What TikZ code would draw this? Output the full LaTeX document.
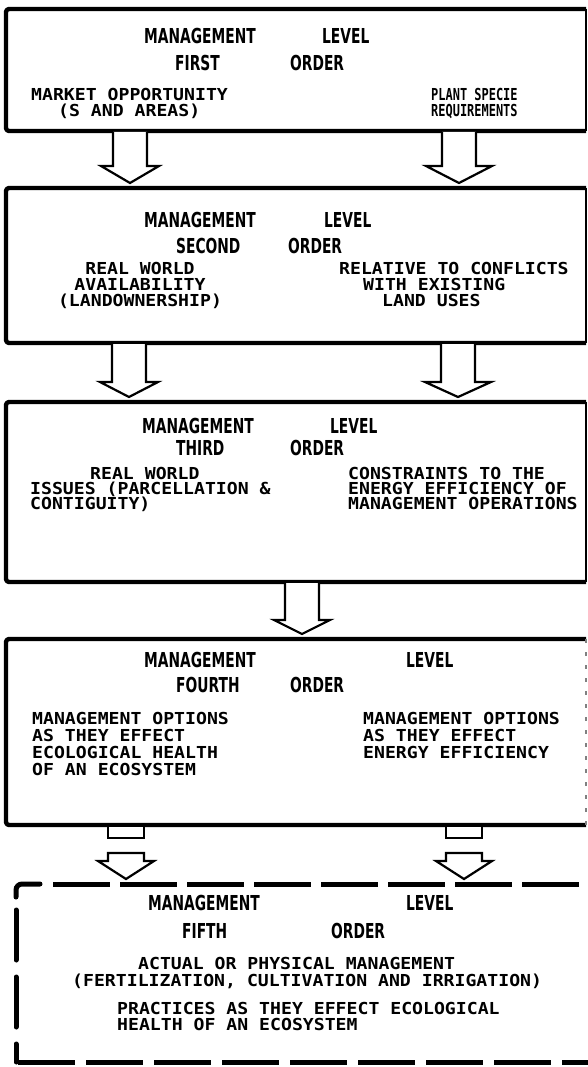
\documentclass[tikz,border=0pt]{standalone}
\usepackage{fontspec}
\usetikzlibrary{calc}
\newfontfamily\headfont{DejaVu Sans}[FakeStretch=0.67]
\newfontfamily\typfont{DejaVu Sans Mono}[FakeStretch=1.10]
\newfontfamily\typcond{DejaVu Sans Mono}[FakeStretch=0.725]
\tikzset{
  hd/.style={anchor=base west, inner sep=0pt, font=\headfont\bfseries\fontsize{20.6}{24}\selectfont},
  tx/.style={anchor=base west, inner sep=0pt, font=\typfont\bfseries\fontsize{16.5}{18}\selectfont},
  txm/.style={anchor=base, inner sep=0pt, font=\typfont\bfseries\fontsize{16.5}{18}\selectfont},
  txc/.style={anchor=base west, inner sep=0pt, font=\typcond\bfseries\fontsize{16.5}{18}\selectfont},
  boxnode/.style={anchor=north west, inner sep=0pt, outer sep=0pt, draw=none},
  frameside/.style={line width=4.4pt, rounded corners=3pt, line join=round},
  frameright/.style={line width=1.5pt},
  blockarrow/.style={draw=black, fill=white, line width=2.2pt, line join=miter},
  stubsty/.style={draw=black, fill=white, line width=2.6pt},
  dashtop/.style={line width=5pt, dash pattern=on 57pt off 10pt},
  dashleft/.style={line width=5pt, dash pattern=on 50pt off 17pt, line cap=round},
}
\newcommand\myboxframe[1]{%
  \draw[frameside] (#1.north east) -- (#1.north west) -- (#1.south west) -- (#1.south east);
  \draw[frameright] (#1.north east) -- (#1.south east);
}
% x centre, from node, to node, shaft half width, head half width, head length
\newcommand\myblockarr[6]{%
  \draw[blockarrow] let \p1=(#2.south), \p2=(#3.north) in
    (#1pt-#4pt,\y1-1pt) -- (#1pt-#4pt,\y2+5pt+#6pt) -- (#1pt-#5pt,\y2+5pt+#6pt)
    -- (#1pt,\y2+5pt) -- (#1pt+#5pt,\y2+5pt+#6pt) -- (#1pt+#4pt,\y2+5pt+#6pt)
    -- (#1pt+#4pt,\y1-1pt);
}
% broken arrow: x centre, from node, to node
\newcommand\mybrokenarr[3]{%
  \draw[stubsty] let \p1=(#2.south) in (#1pt-18pt,\y1-1pt) rectangle (#1pt+18pt,\y1-13pt);
  \draw[blockarrow] let \p2=(#3.north) in
    (#1pt-18pt,\y2+31pt) -- (#1pt+18pt,\y2+31pt) -- (#1pt+18pt,\y2+23pt)
    -- (#1pt+28pt,\y2+23pt) -- (#1pt,\y2+5pt) -- (#1pt-28pt,\y2+23pt)
    -- (#1pt-18pt,\y2+23pt) -- cycle;
}
\begin{document}
\begin{tikzpicture}[x=1pt,y=-1pt]
\useasboundingbox (0,0) rectangle (587,1067);
\fill[white] (0,0) rectangle (587,1067);

% boxes
\node[boxnode, minimum width=580pt, minimum height=122pt] (b1) at (6,9) {};
\node[boxnode, minimum width=580pt, minimum height=155pt] (b2) at (6,188) {};
\node[boxnode, minimum width=580pt, minimum height=180pt] (b3) at (6,402) {};
\node[boxnode, minimum width=580pt, minimum height=186pt] (b4) at (6,639) {};
\node[boxnode, minimum width=584pt, minimum height=178pt] (b5) at (16,884) {};

\myboxframe{b1}
\myboxframe{b2}
\myboxframe{b3}
\draw[frameside] (b4.north east) -- (b4.north west) -- (b4.south west) -- (b4.south east);
\draw[line width=1.2pt, dash pattern=on 4pt off 9pt, gray] (b4.north east) -- (b4.south east);

% dashed fifth box
\draw[line width=5pt, line cap=round, rounded corners=6pt] ($(b5.north west)+(0,13)$) -- (b5.north west) -- ($(b5.north west)+(24,0)$);
\draw[dashtop] ($(b5.north west)+(37,0)$) -- (b5.north east);
\draw[dashtop, dash pattern=on 57pt off 11pt] ($(b5.south west)+(2,0)$) -- (b5.south east);
\draw[dashleft] ($(b5.north west)+(0,26)$) -- (b5.south west);

% arrows
\myblockarr{130}{b1}{b2}{17}{29}{17}
\myblockarr{459}{b1}{b2}{17}{33}{17}
\myblockarr{129}{b2}{b3}{17}{29}{15}
\myblockarr{458}{b2}{b3}{17}{33}{15}
\myblockarr{302}{b3}{b4}{17}{28}{14}
\mybrokenarr{126}{b4}{b5}
\mybrokenarr{464}{b4}{b5}

% box 1
\node[hd] (m1) at (144,44) {MANAGEMENT};
\node[hd] (l1) at (322,44) {LEVEL};
\node[hd] (f1) at (175,71) {FIRST};
\node[hd] (o1) at (290,71) {ORDER};
\node[tx] (p1a) at (31,101) {MARKET OPPORTUNITY};
\node[tx] (p1b) at (58,117) {(S AND AREAS)};
\node[txc] (q1a) at (431,101) {PLANT SPECIE};
\node[txc] (q1b) at (431,117) {REQUIREMENTS};

% box 2
\node[hd] (m2) at (144,228) {MANAGEMENT};
\node[hd] (l2) at (324,228) {LEVEL};
\node[hd] (f2) at (176,253) {SECOND};
\node[hd] (o2) at (288,253) {ORDER};
\node[txm] (p2a) at (140,274) {REAL WORLD};
\node[txm] (p2b) at (140,290) {AVAILABILITY};
\node[txm] (p2c) at (140,306) {(LANDOWNERSHIP)};
\node[tx] (q2a) at (339,274) {RELATIVE TO CONFLICTS};
\node[tx] (q2b) at (363,290) {WITH EXISTING};
\node[tx] (q2c) at (382,306) {LAND USES};

% box 3
\node[hd] (m3) at (142,433) {MANAGEMENT};
\node[hd] (l3) at (330,433) {LEVEL};
\node[hd] (f3) at (176,455) {THIRD};
\node[hd] (o3) at (290,455) {ORDER};
\node[tx] (p3a) at (90,479) {REAL WORLD};
\node[tx] (p3b) at (30,494) {ISSUES (PARCELLATION \&};
\node[tx] (p3c) at (30,509) {CONTIGUITY)};
\node[tx] (q3a) at (348,479) {CONSTRAINTS TO THE};
\node[tx] (q3b) at (348,494) {ENERGY EFFICIENCY OF};
\node[tx] (q3c) at (348,509) {MANAGEMENT OPERATIONS};

% box 4
\node[hd] (m4) at (144,667) {MANAGEMENT};
\node[hd] (l4) at (406,667) {LEVEL};
\node[hd] (f4) at (176,692) {FOURTH};
\node[hd] (o4) at (290,692) {ORDER};
\node[tx] (p4a) at (32,724) {MANAGEMENT OPTIONS};
\node[tx] (p4b) at (32,741) {AS THEY EFFECT};
\node[tx] (p4c) at (32,758) {ECOLOGICAL HEALTH};
\node[tx] (p4d) at (32,775) {OF AN ECOSYSTEM};
\node[tx] (q4a) at (363,724) {MANAGEMENT OPTIONS};
\node[tx] (q4b) at (363,741) {AS THEY EFFECT};
\node[tx] (q4c) at (363,758) {ENERGY EFFICIENCY};

% box 5
\node[hd] (m5) at (148,910) {MANAGEMENT};
\node[hd] (l5) at (406,910) {LEVEL};
\node[hd] (f5) at (182,938) {FIFTH};
\node[hd] (o5) at (331,938) {ORDER};
\node[tx] (p5a) at (138,969) {ACTUAL OR PHYSICAL MANAGEMENT};
\node[tx] (p5b) at (72,986) {(FERTILIZATION, CULTIVATION AND IRRIGATION)};
\node[tx] (p5c) at (117,1014) {PRACTICES AS THEY EFFECT ECOLOGICAL};
\node[tx] (p5d) at (117,1030) {HEALTH OF AN ECOSYSTEM};
\end{tikzpicture}
\end{document}
